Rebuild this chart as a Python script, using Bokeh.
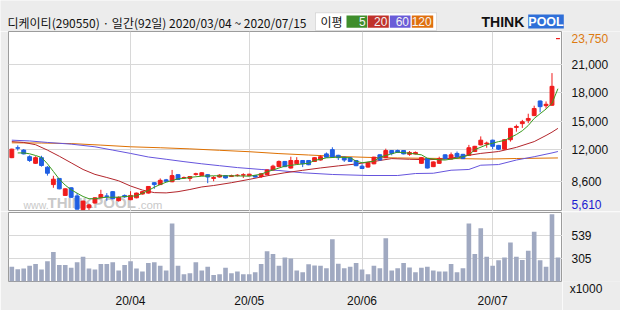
from bokeh.plotting import figure
from bokeh.layouts import column, row
from bokeh.models import Range1d, FixedTicker, Label, BoxAnnotation, ColumnDataSource
from bokeh.embed import file_html
from bokeh.resources import INLINE

# ---------------- data ----------------
title_text = "디케이티(290550) · 일간(92일) 2020/03/04 ~ 2020/07/15"
legend_title = "이평"
legend_periods = ["5", "20", "60", "120"]

days = list(range(93))
opens = [11150, 12200, 11950, 11250, 10550, 11150, 10140, 8300, 8950, 7150,
         7960, 7100, 5650, 5850, 6350, 6900, 7100, 7550, 6600, 7150,
         6700, 6900, 7300, 7400, 8500, 8300, 8800, 8600, 9350, 9000,
         8950, 9380, 9250, 9350, 8950, 9100, 9250, 9150, 9250, 9300,
         9250, 9250, 9150, 9350, 9850, 10200, 10750, 10050, 10500, 10850,
         10850, 10750, 10900, 11550, 12000, 11400, 11200, 11150, 10850, 10250,
         10150, 10500, 11450, 11150, 11900, 11900, 11900, 11500, 11550, 10550,
         11050, 10200, 10550, 11450, 11000, 11600, 11500, 11400, 11800, 12500,
         12600, 13000, 12450, 12050, 13050, 14350, 14750, 15100, 15600, 17150,
         16650, 16700, 23750]
highs = [12100, 12450, 12050, 11400, 11300, 11350, 10250, 9230, 9000, 7900,
         8000, 7400, 6600, 6250, 6950, 7750, 7400, 7600, 7050, 7250,
         7600, 7450, 7600, 8150, 8550, 8950, 8900, 9850, 9400, 9150,
         9200, 9550, 9600, 9400, 9200, 9400, 9300, 9350, 9400, 9500,
         9450, 9300, 9500, 9900, 10400, 10850, 10800, 11250, 11200, 10900,
         10900, 11200, 11400, 11700, 12250, 11450, 11250, 11200, 10900, 10450,
         10650, 11250, 11500, 12100, 11950, 12000, 11950, 11850, 11800, 11200,
         11100, 10750, 11250, 11500, 11700, 11800, 11550, 12500, 12400, 13400,
         12850, 13050, 12500, 13100, 14300, 14650, 15150, 15800, 16650, 17200,
         17100, 20100, 23750]
lows = [11100, 11900, 11500, 10700, 10500, 10200, 9250, 7960, 7800, 7100,
        6900, 5680, 5620, 5610, 6300, 6850, 6600, 6750, 6500, 6900,
        6650, 6850, 7250, 7350, 7850, 8250, 8600, 8550, 8800, 8950,
        8650, 9250, 9200, 8450, 8650, 9050, 8950, 9100, 9150, 9000,
        9200, 9050, 9000, 9300, 9800, 10150, 10150, 10000, 10450, 10150,
        10350, 10700, 10850, 11150, 11150, 10900, 10700, 10700, 10250, 9950,
        10100, 10450, 10850, 11100, 11400, 11650, 11500, 11350, 11500, 10500,
        10000, 10150, 10500, 11000, 10950, 11050, 11000, 11350, 11750, 12450,
        12200, 12050, 11950, 12000, 12850, 13900, 14300, 14800, 15550, 15950,
        16350, 16650, 23750]
closes = [12050, 12150, 11550, 10850, 11150, 10320, 9500, 8870, 7850, 7850,
          6950, 5700, 6550, 6150, 6900, 7250, 7050, 6800, 6950, 7000,
          7150, 7400, 7550, 8100, 8300, 8750, 8650, 9250, 8850, 9050,
          9150, 9450, 9550, 9100, 9050, 9300, 9000, 9250, 9300, 9350,
          9400, 9100, 9450, 9850, 10250, 10750, 10200, 10850, 10850, 10500,
          10400, 11150, 11250, 11200, 11200, 11150, 10900, 10750, 10300, 10000,
          10600, 11200, 10900, 11900, 11600, 11700, 11550, 11700, 11700, 11150,
          10050, 10700, 11050, 11050, 11450, 11250, 11050, 12200, 12350, 13000,
          12700, 12350, 12050, 13050, 14250, 14450, 14950, 15300, 16350, 16550,
          16800, 18700, 23750]

volumes = [221, 196, 202, 230, 249, 193, 277, 370, 239, 239,
           211, 268, 324, 202, 193, 249, 249, 268, 183, 239,
           277, 202, 174, 258, 268, 230, 183, 661, 230, 146,
           155, 268, 183, 221, 137, 146, 211, 155, 174, 146,
           146, 165, 249, 380, 352, 230, 314, 305, 183, 165,
           246, 235, 230, 205, 502, 252, 205, 221, 258, 193,
           146, 230, 205, 511, 183, 205, 258, 214, 165, 211,
           221, 183, 174, 174, 249, 165, 205, 661, 352, 614,
           324, 230, 286, 314, 467, 324, 289, 383, 576, 286,
           221, 754, 314]

ma5_days = [1, 2, 3, 4, 5, 6, 7, 8, 9, 10, 11, 12, 13, 14, 15, 16, 17, 18, 19, 20,
            21, 22, 23, 24, 25, 26, 27, 28, 29, 30, 31, 32, 34, 36, 38, 40, 42, 43, 45, 46,
            48, 50, 51, 53, 55, 57, 58, 59, 61, 62, 64, 65, 67, 69, 70, 72, 73, 75, 77, 78,
            80, 82, 83, 85, 86, 87, 88, 89, 90, 91, 92]
ma5_vals = [11650, 11650, 11560, 11380, 11170, 10500, 9690, 8870, 8240, 7750, 7390, 7040, 6800, 6800, 6900, 6960, 6960, 6960, 7040, 7070,
            7110, 7390, 7680, 8020, 8310, 8550, 8730, 8910, 8950, 9060, 9130, 9190, 9230, 9230, 9220, 9190, 9400, 9650, 10050, 10250,
            10420, 10560, 10850, 11130, 11200, 11135, 10780, 10610, 10780, 11200, 11560, 11730, 11620, 11450, 11090, 10920, 10900, 11090, 11420, 12000,
            12510, 12850, 12970, 13600, 14000, 14550, 15300, 15800, 16300, 16900, 18450]

ma20_days = [0, 2, 4, 6, 8, 10, 12, 14, 16, 18, 20, 22, 24, 26, 28, 30, 32, 34, 37, 40,
             43, 46, 49, 52, 55, 58, 61, 64, 67, 70, 73, 76, 79, 82, 85, 88, 90, 91, 92]
ma20_vals = [12850, 12760, 12520, 11950, 11300, 10600, 9900, 9380, 9050, 8700, 8150, 7720, 7450, 7420, 7550, 7780, 8050, 8200, 8500, 8850,
             9230, 9550, 9810, 10060, 10280, 10480, 10750, 11050, 10980, 10930, 11000, 11300, 11600, 11800, 12240, 12850, 13500, 13850, 14250]

ma60_days = [0, 3, 6, 10, 14, 17, 20, 23, 26, 29, 32, 35, 38, 42, 45, 49, 54, 60, 65, 68,
             71, 74, 77, 79, 82, 85, 88, 91, 92]
ma60_vals = [13000, 12920, 12760, 12580, 12300, 11950, 11600, 11220, 10980, 10730, 10500, 10300, 10100, 9900, 9790, 9550, 9370, 9260, 9260, 9470,
             9500, 9820, 9900, 10350, 10420, 10900, 11250, 11650, 11800]

ma120_days = [0, 5, 10, 15, 20, 25, 30, 35, 40, 45, 50, 55, 60, 65, 70, 75, 80, 85, 92]
ma120_vals = [12720, 12700, 12640, 12480, 12300, 12200, 12080, 11930, 11780, 11580, 11430, 11280, 11180, 11120, 11080, 11050, 11000, 11060, 11120]

max_label = "23,750"
min_label = "5,610"

price_ticks = [8600, 12000, 15000, 18000, 21000]
price_tick_labels = ["8,600", "12,000", "15,000", "18,000", "21,000"]
vol_unit = "x1000"
vol_ticks = [305, 539]
vol_tick_labels = ["305", "539"]
month_days = [20, 40, 59, 81]
month_labels = ["20/04", "20/05", "20/06", "20/07"]

# ---------------- style ----------------
BG = "#ececec"
FRAME = "#9c9c9c"
GRID = "#d8d8d8"
UP = "#f01c1c"
DOWN = "#1f5fe3"
C5, C20, C60, C120 = "#3a9a1e", "#b3262c", "#6655dd", "#de7000"
LEG5, LEG20, LEG60, LEG120 = "#3f8e2c", "#c0322b", "#6a5cd8", "#e07010"
VOLC = "#a0a9c1"
NUMFONT = "Liberation Sans"
KFONT = "Noto Sans CJK KR"
TXT = "#111111"

XR = Range1d(-0.56, 92.77)
PR = Range1d(5451, 24504)
vol_floor = 71
VR = Range1d(vol_floor, 773)


def bare(fig):
    fig.xaxis.visible = False
    fig.yaxis.visible = False
    fig.grid.visible = False
    return fig


def plain_axis(ax):
    ax.axis_line_color = None
    ax.major_tick_line_color = None
    ax.minor_tick_line_color = None
    ax.major_label_text_font = NUMFONT
    ax.major_label_text_font_size = "12px"
    ax.major_label_text_color = TXT


# ---------------- header strip ----------------
h = bare(figure(width=620, height=31, x_range=Range1d(0, 620), y_range=Range1d(31, 0),
                output_backend="svg", toolbar_location=None,
                min_border=0, background_fill_color=BG, border_fill_color=BG, outline_line_color=None))
h.add_layout(Label(x=7, y=21.5, text=title_text, text_font=KFONT, text_font_size="12px",
                   text_color=TXT, text_baseline="middle"))
h.add_layout(BoxAnnotation(left=315, right=436, top=12.3, bottom=30, fill_color="white", fill_alpha=1,
                           line_color="#a0a0a0", line_width=1))
h.add_layout(Label(x=320, y=21, text=legend_title, text_font=KFONT, text_font_size="12px",
                   text_color=TXT, text_baseline="middle"))
boxes = [(346, 366.7, LEG5), (367.3, 388.3, LEG20), (389.3, 410, LEG60), (411.3, 432.7, LEG120)]
for (l, r, col), txt in zip(boxes, legend_periods):
    h.add_layout(BoxAnnotation(left=l, right=r, top=15, bottom=27.3, fill_color=col, fill_alpha=1,
                               line_color=None))
    h.add_layout(Label(x=r - 1.5, y=21.2, text=txt, text_font=NUMFONT, text_font_size="12px",
                       text_color="#f4f4f4", text_align="right", text_baseline="middle"))
h.add_layout(Label(x=481, y=21, text="THINK", text_font=NUMFONT, text_font_size="14px",
                   text_font_style="bold", text_color=TXT, text_baseline="middle"))
h.add_layout(BoxAnnotation(left=527.7, right=563.3, top=14, bottom=28, fill_color="#2f6fd8",
                           fill_alpha=1, line_color=None))
h.add_layout(Label(x=545.5, y=21, text="POOL", text_font=NUMFONT, text_font_size="12.5px",
                   text_font_style="bold", text_color="white", text_align="center", text_baseline="middle"))

# ---------------- price panel ----------------
p = figure(width=562, height=180, x_range=XR, y_range=PR,
           output_backend="svg", toolbar_location=None,
           x_axis_location=None, y_axis_location=None,
           min_border_left=8, min_border_right=0, min_border_top=0, min_border_bottom=0,
           background_fill_color="white", border_fill_color=BG,
           outline_line_color=FRAME, outline_line_width=1)
p.ygrid.ticker = FixedTicker(ticks=price_ticks)
p.xgrid.ticker = FixedTicker(ticks=month_days)
p.grid.grid_line_color = GRID
p.grid.grid_line_width = 1

for txt, xx, sz, st in [("www.", 15, "10.5px", "normal"), ("THINKPOOL", 39, "15px", "bold"),
                        (".com", 129, "11.5px", "normal")]:
    p.add_layout(Label(x=xx, y=1, x_units="screen", y_units="screen", text=txt,
                       text_font=NUMFONT, text_font_size=sz, text_font_style=st,
                       text_color="#c9c9c9", text_baseline="bottom", level="underlay"))

colors = [UP if c >= o else DOWN for o, c in zip(opens, closes)]
src = ColumnDataSource(dict(x=days, o=opens, h=highs, l=lows, c=closes,
                            top=[max(o, c) for o, c in zip(opens, closes)],
                            bottom=[min(o, c) for o, c in zip(opens, closes)],
                            color=colors))

p.line(ma120_days, ma120_vals, line_color=C120, line_width=1)
p.line(ma60_days, ma60_vals, line_color=C60, line_width=1)
p.line(ma20_days, ma20_vals, line_color=C20, line_width=1)
p.segment(x0="x", y0="h", x1="x", y1="l", line_color="color", line_width=1, source=src)
p.vbar(x="x", width=0.65, top="top", bottom="bottom", fill_color="color", line_color="color",
       line_width=1, source=src)
p.line(ma5_days, ma5_vals, line_color=C5, line_width=1)

# price labels strip (right)
pr = bare(figure(width=58, height=180, x_range=Range1d(0, 58), y_range=PR,
                 output_backend="svg", toolbar_location=None, min_border=0,
                 background_fill_color=BG, border_fill_color=BG, outline_line_color=None))
for val, txt in zip(price_ticks, price_tick_labels):
    pr.add_layout(Label(x=9, y=val, text=txt, text_font=NUMFONT, text_font_size="12px",
                        text_color=TXT, text_baseline="middle"))
pr.add_layout(Label(x=9, y=max(highs), text=max_label, text_font=NUMFONT, text_font_size="12px",
                    text_color="#dd7a10", text_baseline="middle"))
pr.add_layout(Label(x=9, y=7.5, y_units="screen", text=min_label, text_font=NUMFONT, text_font_size="12px",
                    text_color="#1a1ad0", text_baseline="middle"))

# ---------------- volume panel ----------------
v = figure(width=562, height=99, x_range=XR, y_range=VR,
           output_backend="svg", toolbar_location=None,
           x_axis_location="below", y_axis_location=None,
           min_border_left=8, min_border_right=0, min_border_top=1, min_border_bottom=23,
           background_fill_color="white", border_fill_color=BG,
           outline_line_color=FRAME, outline_line_width=1)
v.xaxis.ticker = FixedTicker(ticks=month_days)
v.xaxis.major_label_overrides = dict(zip(month_days, month_labels))
plain_axis(v.xaxis)
v.xaxis.major_label_standoff = 6
v.ygrid.ticker = FixedTicker(ticks=vol_ticks)
v.xgrid.ticker = FixedTicker(ticks=month_days)
v.grid.grid_line_color = GRID
v.grid.grid_line_width = 1
v.vbar(x=days, top=volumes, bottom=vol_floor, width=0.78, fill_color=VOLC, line_color=None)

# volume labels strip (right); its bottom axis carries the unit text
unit_pos = [23.5]
vr = figure(width=58, height=99, x_range=Range1d(0, 58), y_range=VR,
            output_backend="svg", toolbar_location=None,
            x_axis_location="below", y_axis_location=None,
            min_border_left=0, min_border_right=0, min_border_top=1, min_border_bottom=23,
            background_fill_color=BG, border_fill_color=BG, outline_line_color=None)
vr.grid.visible = False
vr.xaxis.ticker = FixedTicker(ticks=unit_pos)
vr.xaxis.major_label_overrides = {unit_pos[0]: vol_unit}
plain_axis(vr.xaxis)
vr.xaxis.major_label_standoff = -6
for val, txt in zip(vol_ticks, vol_tick_labels):
    vr.add_layout(Label(x=9, y=val, text=txt, text_font=NUMFONT, text_font_size="12px",
                        text_color=TXT, text_baseline="middle"))

layout = column(h, row(p, pr, spacing=0), row(v, vr, spacing=0), spacing=0)
open("out.html", "w").write(file_html(layout, INLINE))
